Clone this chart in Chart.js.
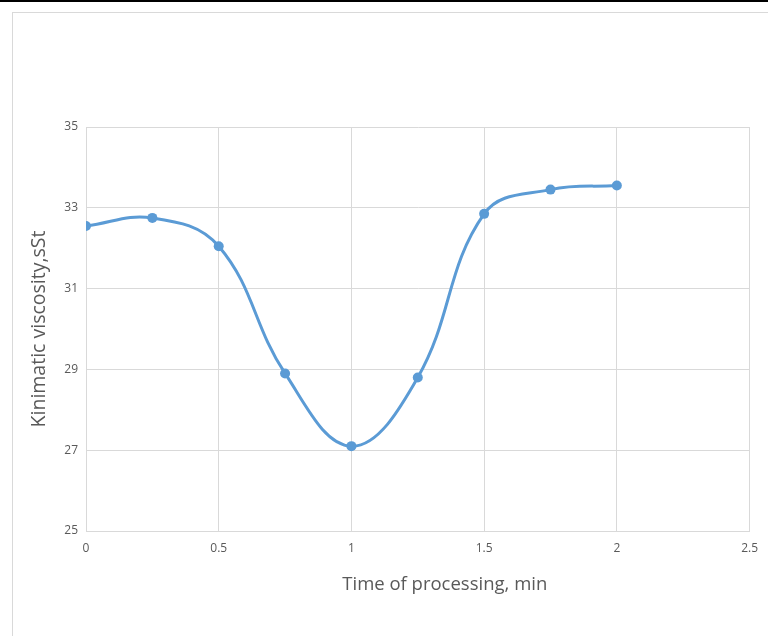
<!DOCTYPE html>
<html>
<head>
<meta charset="utf-8">
<script src="https://cdn.jsdelivr.net/npm/chart.js@4"></script>
<style>
    html, body { margin: 0; padding: 0; background: #fff; }
    #wrap { position: relative; width: 768px; height: 636px; overflow: hidden; }
    #topLine { position: absolute; left: 0; top: 0; width: 768px; height: 2px; background: #000; }
    #frame { position: absolute; left: 12px; top: 12px; width: 800px; height: 700px; border: 1px solid #d9d9d9; box-sizing: border-box; }
    #grafico { position: absolute; left: 0; top: 0; }
</style>
</head>
<body>
<div id="wrap">
    <div id="topLine"></div>
    <div id="frame"></div>
    <canvas id="grafico" width="768" height="636"></canvas>
</div>
<script>
// Datos
const tiempos = [0, 0.25, 0.5, 0.75, 1, 1.25, 1.5, 1.75, 2];
const viscosidad = [32.55, 32.75, 32.05, 28.9, 27.1, 28.8, 32.85, 33.45, 33.55];
const ticksX = [0, 0.5, 1, 1.5, 2, 2.5];
const ticksY = [25, 27, 29, 31, 33, 35];
const tituloX = 'Time of processing, min';
const tituloY = 'Kinimatic viscosity,sSt';

const colorLinea = '#5b9bd5';
const colorGrilla = '#d9d9d9';
const colorTexto = '#595959';
const fuente = "'Open Sans', 'Liberation Sans', sans-serif";

const puntos = tiempos.map((t, i) => ({ x: t, y: viscosidad[i] }));

// El título del eje X no está centrado en el original, se dibuja aparte
const tituloEjeX = {
    id: 'tituloEjeX',
    afterDraw(chart) {
        const c = chart.ctx;
        const area = chart.chartArea;
        c.save();
        c.fillStyle = colorTexto;
        c.font = `18.5px ${fuente}`;
        c.textAlign = 'center';
        c.textBaseline = 'middle';
        c.fillText(tituloX, (area.left + area.right) / 2 + 27, area.bottom + 54);
        c.restore();
    }
};

const ctx = document.getElementById('grafico').getContext('2d');
new Chart(ctx, {
    type: 'line',
    data: {
        datasets: [{
            label: 'Kinimatic viscosity',
            data: puntos,
            borderColor: colorLinea,
            backgroundColor: colorLinea,
            borderWidth: 3,
            pointRadius: 5,
            pointBorderWidth: 0,
            tension: 0.4,
            fill: false
        }]
    },
    options: {
        responsive: false,
        animation: false,
        layout: { padding: { left: 0, right: 18, top: 127, bottom: 0 } },
        plugins: {
            legend: { display: false },
            tooltip: { enabled: false }
        },
        scales: {
            x: {
                type: 'linear',
                min: ticksX[0],
                max: ticksX[ticksX.length - 1],
                afterBuildTicks: scale => { scale.ticks = ticksX.map(v => ({ value: v })); },
                afterFit: scale => { scale.height = 105; },
                grid: { color: colorGrilla, drawTicks: false },
                border: { color: colorGrilla },
                ticks: {
                    color: colorTexto,
                    font: { family: fuente, size: 12 },
                    padding: 10,
                    callback: value => String(value)
                },
                title: { display: false }
            },
            y: {
                min: ticksY[0],
                max: ticksY[ticksY.length - 1],
                afterBuildTicks: scale => { scale.ticks = ticksY.map(v => ({ value: v })); },
                afterFit: scale => { scale.width = 86; },
                grid: { color: colorGrilla, drawTicks: false },
                border: { color: colorGrilla },
                ticks: {
                    color: colorTexto,
                    font: { family: fuente, size: 12 },
                    padding: 8,
                    callback: value => String(value)
                },
                title: {
                    display: true,
                    text: tituloY,
                    color: colorTexto,
                    font: { family: fuente, size: 19.5 },
                    padding: { top: 28, bottom: 0 }
                }
            }
        }
    },
    plugins: [tituloEjeX]
});
</script>
</body>
</html>
